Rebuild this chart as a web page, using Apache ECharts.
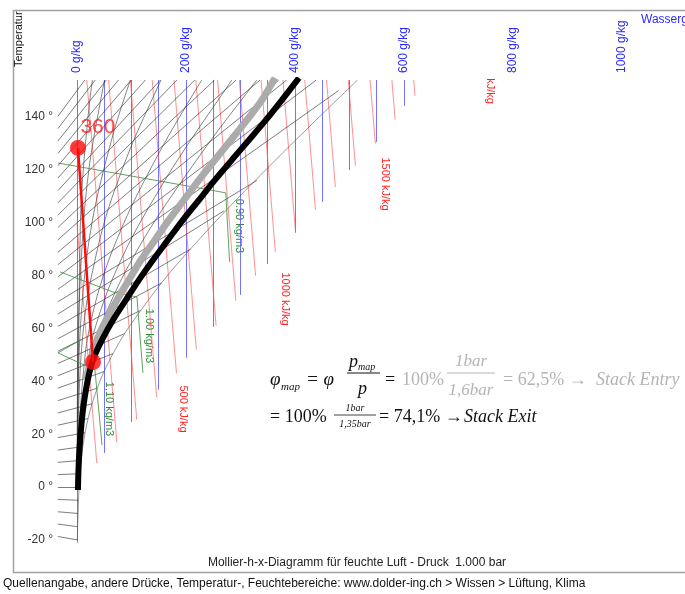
<!DOCTYPE html>
<html><head><meta charset="utf-8">
<script src="https://cdn.jsdelivr.net/npm/echarts@6/dist/echarts.min.js"></script>
<style>html,body{margin:0;padding:0;background:#fff}#c{width:685px;height:594px}</style>
</head><body><div id="c"></div>
<script>
// ---- data (x: water content g/kg, y: temperature scale °C) ----
const isoTemps = [-20,-15,-10,-5,0,5,10,15,20,25,30,35,40,45,50,55,60,65,70,75,80,85,90,95,100,105,110,115,120,125,130,135,140,145,150];
const isoStartY = [-18.7,-14.0,-9.35,-4.7,0,4.7,9.35,14.0,18.7,23.4,28.05,32.7,37.4,42.1,46.75,51.4,56.1,60.8,65.45,70.1,74.8,79.5,84.15,88.8,93.5,98.2,102.85,107.5,112.2,116.9,121.55,126.2,130.9,135.6,140.25];
const isoEndX = [0.6,1.0,1.6,2.5,3.8,5.5,7.7,10.8,14.9,20.4,27.6,37.1,49.6,66.0,87.6,116.4,155,208,270,330,480,439,384.6,335.9,292.1,252.4,216.3,183.4,153.2,125.5,99.8,76.1,54.1,33.6,14.4];
const isoEndY = [-20,-15,-10,-5,0,5.05,10.1,15.3,20.55,25.9,31.5,37.4,43.7,50.5,58.1,66.8,77.2,90.0,104.5,116,150,154,154,154,154,154,154,154,154,154,154,154,154,154,154];

const waterX = [0,50,100,150,200,250,300,350,400,450,500,550,600];
const waterEndY = [-21,12.9,24.6,36.8,48.9,60.6,72.7,84.4,96.2,107.9,120.0,130.6,144.2];

const enthalpy = [100,200,300,400,500,600,700,800,900,1000,1100,1200,1300,1400,1500,1600,1700];
const hStartX = [0,18.0,58.0,98.0,138.0,178.0,218.0,258.0,297.9,337.9,377.9,417.9,457.9,497.8,537.8,577.8,617.8];
const hStartY = [99.4,154,154,154,154,154,154,154,154,154,154,154,154,154,154,154,154];
const hEndX = [36.4,73.1,109.7,146.3,182.6,219.0,255.3,291.5,327.7,364.0,400.8,437.6,474.1,510.9,547.5,583.8,620.2];
const hEndY = [9,17,25.5,34,43,52,61,70.5,80,89,97,105,113.5,121.5,130,139,148];

const rh1 = [[0,0],[6.4,101.2],[12.6,122.8],[23.3,146],[28.4,154]];
const rh2 = [[0.1,0],[2.5,60.3],[12.9,102.4],[25.7,125.7],[50.5,154]];
const rh5 = [[0.2,0],[3.9,50.4],[15.1,82.2],[33.2,106.1],[68.6,135.2],[98,154]];
const rh10 = [[0.4,0],[1.5,20],[7.8,50.7],[20,72.6],[46.9,97.8],[70.2,113],[104.1,131.2],[154.2,154]];
const rh20 = [[0.8,0],[3.0,20.1],[15.75,51.5],[25.85,62.9],[41.4,75.4],[65.2,89.6],[101.6,106.9],[158.2,129.3],[198.1,143.5],[229,154]];
const rh30 = [[1.1,0],[4.5,20.2],[23.9,52.2],[39.6,64.4],[64.2,78.3],[103.1,95.3],[165.8,117.6],[211.4,132.1],[272,150.3],[284,154]];
const rh40 = [[1.5,0],[6,20.2],[32.3,53],[53.9,66],[88.7,81.5],[145.5,101.5],[242.7,130.4],[317.9,150.8],[330,154]];
const rh50 = [[1.9,0],[7.4,20.3],[13.5,30.7],[23.8,41.8],[40.9,53.8],[68.9,67.6],[115,84.9],[193.2,108.6],[336.3,146],[370,154]];
const rh100 = [[0.6,-20],[3.8,0],[7.7,10.1],[14.9,20.55],[27.6,31.5],[49.6,43.7],[87.6,58.1],[155,77.2],[208,90],[282,106.5],[391,129.2],[481,147.3],[515,154]];

const rho090 = [[-35,122.6],[244,112.4],[273,111.3],[280,85.2]];
const rho100 = [[-31,81.4],[66,73.8],[110,71.9],[121,43.2]];
const rho110 = [[-35,50.75],[33,44.3],[46,15.9]];
const rho110b = [[-35,50.75],[10,56]];

const curveStackExit = [[1.8,-1.1],[2.75,6.5],[4.6,14.1],[7.3,21.6],[11.0,29.2],[16.5,36.8],[23.9,44.3],[33.0,50.0],[45.9,55.7],[66.1,63.2],[89.9,70.8],[113.8,78.4],[139.5,85.9],[167.0,93.5],[194.5,101.1],[223.9,108.6],[253.2,116.2],[284.4,123.8],[315.6,131.3],[346.8,138.9],[376.2,146.5],[407.3,154.8]];
const curveStackEntry = [[16.5,40.5],[24.8,47.4],[36.7,55.7],[53.2,63.2],[73.4,70.8],[95.4,78.4],[117.4,85.9],[143.1,93.5],[168.8,101.1],[196.3,108.6],[223.9,116.2],[253.2,123.8],[282.6,131.3],[311.9,138.9],[339.5,146.5],[363.3,154.8]];
const processLine = [[1.8,128.3],[29.4,47.3]];
const pointLabel = '360';

// ---- chart ----
const chart = echarts.init(document.getElementById('c'), null, {renderer:'canvas'});
const segs = (a) => a.map(c => ({coords:c}));
const isoSegs = isoTemps.map((t,i)=>[[-35,isoStartY[i]],[isoEndX[i],isoEndY[i]]]);
const waterSegs = waterX.map((x,i)=>[[x,154],[x,waterEndY[i]]]);
const hSegs = enthalpy.map((h,i)=>[[hStartX[i],hStartY[i]],[hEndX[i],hEndY[i]]]);

function thin(data, color, width, z, op){
  return {type:'line', xAxisIndex:0, yAxisIndex:0, data, showSymbol:false, silent:true, smooth:0.3, z,
    lineStyle:{color, width, opacity: op===undefined?1:op}};
}
const serif = '"Liberation Serif","DejaVu Serif",serif';
const sans = '"Liberation Sans",Arial,sans-serif';
function rtxt(x,y,text,color,size){ return {type:'text', x, y, rotation:-Math.PI/2, style:{text, fill:color, font:(size||11)+'px '+sans, align:'center', verticalAlign:'middle'}}; }
function ft(x,y,text,fill,font,align){ return {type:'text', x, y, style:{text, fill, font, align:align||'left', verticalAlign:'middle'}}; }

const black = '#111', grey = '#b4b4b4';
const option = {
  animation:false,
  backgroundColor:'#fff',
  grid:[
    {left:57.9, top:80, width:618.6, height:465.2},
    {left:77, top:80, width:599.5, height:460}
  ],
  xAxis:[
    {gridIndex:0, type:'value', min:-35, max:1100, show:false},
    {gridIndex:1, type:'value', min:0, max:1100, interval:200, position:'top',
     axisLine:{show:false}, axisTick:{show:false}, splitLine:{show:false},
     axisLabel:{rotate:90, formatter:(v)=>v+' g/kg', color:'#2a2aff', fontSize:12, margin:7, showMaxLabel:false, fontFamily:sans}}
  ],
  yAxis:[
    {gridIndex:0, type:'value', min:-22, max:154, show:false},
    {gridIndex:1, type:'value', min:-20, max:154, interval:20,
     axisLine:{show:false}, axisTick:{show:false}, splitLine:{show:false},
     axisLabel:{formatter:(v)=>v+' °', color:'#333', fontSize:12, margin:24, showMaxLabel:false, fontFamily:sans}}
  ],
  series:[
    {type:'lines', coordinateSystem:'cartesian2d', xAxisIndex:0, yAxisIndex:0, silent:true, z:2,
     lineStyle:{color:'#5a5aff', width:1, opacity:0.85}, data:segs(waterSegs)},
    {type:'lines', coordinateSystem:'cartesian2d', xAxisIndex:0, yAxisIndex:0, silent:true, z:2,
     lineStyle:{color:'#ff5a5a', width:0.8, opacity:0.85}, data:segs(hSegs)},
    {type:'lines', coordinateSystem:'cartesian2d', xAxisIndex:0, yAxisIndex:0, silent:true, z:3,
     lineStyle:{color:'#333', width:0.8, opacity:0.8}, data:segs(isoSegs)},
    thin(rh1,'#333',0.8,3,0.75), thin(rh2,'#333',0.8,3,0.75), thin(rh5,'#333',0.8,3,0.75),
    thin(rh10,'#333',0.8,3,0.75), thin(rh20,'#333',0.8,3,0.75), thin(rh30,'#333',0.8,3,0.75),
    thin(rh40,'#333',0.8,3,0.75), thin(rh50,'#333',0.8,3,0.75), thin(rh100,'#555',0.8,3,0.75),
    Object.assign(thin(rho090,'#3c8c3c',0.9,4,0.9),{smooth:false}),
    Object.assign(thin(rho100,'#3c8c3c',0.9,4,0.9),{smooth:false}),
    Object.assign(thin(rho110,'#3c8c3c',0.9,4,0.9),{smooth:false}),
    Object.assign(thin(rho110b,'#3c8c3c',0.9,4,0.9),{smooth:false}),
    {type:'line', xAxisIndex:0, yAxisIndex:0, data:curveStackEntry, showSymbol:false, smooth:0.3, z:5,
     lineStyle:{color:'#ababab', width:7}},
    {type:'line', xAxisIndex:0, yAxisIndex:0, data:curveStackExit, showSymbol:false, smooth:0.3, z:6,
     lineStyle:{color:'#000', width:6}},
    {type:'line', xAxisIndex:0, yAxisIndex:0, data:processLine, showSymbol:false, z:7,
     lineStyle:{color:'#ff0a0a', width:2.5}},
    {type:'scatter', xAxisIndex:0, yAxisIndex:0, z:8, symbolSize:16, itemStyle:{color:'#ff0a0a'},
     data:[{value:processLine[0], label:{show:true, formatter:pointLabel, position:'top', distance:2, offset:[20,0], fontSize:21, color:'#ff1a1a', fontFamily:sans}},
           {value:processLine[1]}]}
  ],
  graphic:[
    {type:'rect', shape:{x:13.5, y:10.5, width:700, height:562}, style:{fill:null, stroke:'#a0a0a0', lineWidth:1.5}, z:-1},
    {type:'text', x:13, y:67, rotation:Math.PI/2, style:{text:'Temperatur', fill:'#111', font:'11px '+sans, align:'left', verticalAlign:'top'}},
    {type:'text', x:641, y:14, style:{text:'Wassergehalt', fill:'#2a2aff', font:'12px '+sans}},
    rtxt(239,226,'0.90 kg/m3','#2f8a2f'),
    rtxt(149,336,'1.00 kg/m3','#2f8a2f'),
    rtxt(109,409,'1,10 kg/m3','#2f8a2f'),
    rtxt(183,409,'500 kJ/kg','#ff2020'),
    rtxt(285,299,'1000 kJ/kg','#ff2020'),
    rtxt(385,184,'1500 kJ/kg','#ff2020'),
    rtxt(490,91,'kJ/kg','#ff2020'),
    // formula line 1
    ft(270,380,'φ',black,'italic 19px '+serif),
    ft(281,387,'map',black,'italic 11px '+serif),
    ft(306,380,'= φ',black,'italic 19px '+serif),
    ft(349,362,'p',black,'italic 18px '+serif),
    ft(358,367,'map',black,'italic 10px '+serif),
    {type:'line', shape:{x1:347, y1:373, x2:380, y2:373}, style:{stroke:black, lineWidth:1}},
    ft(358,389,'p',black,'italic 18px '+serif),
    ft(385,380,'=',black,'18px '+serif),
    ft(402,380,'100%',grey,'18px '+serif),
    ft(471,362,'1bar',grey,'italic 17px '+serif,'center'),
    {type:'line', shape:{x1:447, y1:373, x2:495, y2:373}, style:{stroke:grey, lineWidth:1}},
    ft(471,391,'1,6bar',grey,'italic 17px '+serif,'center'),
    ft(503,380,'= 62,5% → ',grey,'18px '+serif),
    ft(596,380,'Stack Entry',grey,'italic 18px '+serif),
    // formula line 2
    ft(270,417,'= 100%',black,'18px '+serif),
    ft(355,408,'1bar',black,'italic 10px '+serif,'center'),
    {type:'line', shape:{x1:334, y1:415, x2:376, y2:415}, style:{stroke:black, lineWidth:0.8}},
    ft(355,424,'1,35bar',black,'italic 10px '+serif,'center'),
    ft(379,417,'= 74,1% → ',black,'18px '+serif),
    ft(464,417,'Stack Exit',black,'italic 18px '+serif),
    // title & footer
    ft(357,563,'Mollier-h-x-Diagramm für feuchte Luft - Druck  1.000 bar','#222','12px '+sans,'center'),
    ft(3,584,'Quellenangabe, andere Drücke, Temperatur-, Feuchtebereiche: www.dolder-ing.ch > Wissen > Lüftung, Klima','#111','12px '+sans)
  ]
};
chart.setOption(option);
</script></body></html>
